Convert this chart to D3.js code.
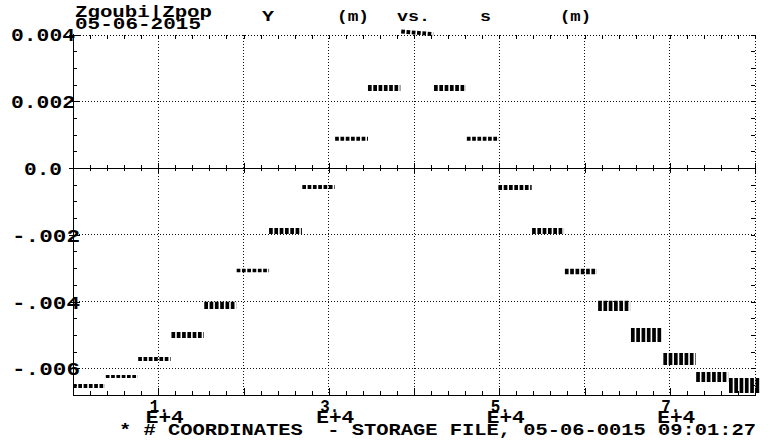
<!DOCTYPE html>
<html>
<head>
<meta charset="utf-8">
<script src="https://cdn.jsdelivr.net/npm/d3@7"></script>
<style>
  html, body { margin: 0; padding: 0; background: #fff; }
  svg { display: block; }
  text { font-family: "Liberation Mono", "DejaVu Sans Mono", monospace; font-weight: bold; fill: #000; white-space: pre; }
</style>
</head>
<body>
<svg id="chart" width="772" height="446"></svg>
<script>
// Horizontal orbit Y (m) along s (m): one group of stored passes per element section.
const sStart = [0, 3850, 7650, 11550, 15400, 19200, 23000, 26900, 30750, 34600, 38500,
                42350, 46200, 49900, 53850, 57700, 61600, 65450, 69250, 73100, 76950];
const sEnd   = [3750, 7600, 11450, 15350, 19150, 23000, 26850, 30700, 34600, 38400, 42250,
                46100, 49950, 53800, 57600, 61450, 65350, 69150, 73050, 76850, 80600];
// Upper and lower edge of each group at its start (m)
const yHi = [-0.00647, -0.00620, -0.00566, -0.00491, -0.00401, -0.00302, -0.00180, -0.00051,
             0.00094, 0.00249, 0.00415, 0.00249, 0.00094,
             -0.00051, -0.00180, -0.00302, -0.00398, -0.00479, -0.00554, -0.00611, -0.00629];
const yLo = [-0.00659, -0.00629, -0.00578, -0.00509, -0.00422, -0.00312, -0.00198, -0.00063,
             0.00082, 0.00231, 0.00403, 0.00231, 0.00082,
             -0.00066, -0.00198, -0.00318, -0.00428, -0.00521, -0.00590, -0.00641, -0.00674];
// Drift of the group centre between its start and its end (m)
const yDrift = [0, 0, 0, 0, 0, 0, 0, 0, 0, 0, -0.00008, 0, 0, 0, 0, 0, 0, 0, 0, 0, 0];

const yTicks = [0.004, 0.002, 0, -0.002, -0.004, -0.006];
const yTickLabels = ["0.004", "0.002", "0.0", "-.002", "-.004", "-.006"];
const xGridValues = [10000, 20000, 30000, 40000, 50000, 60000, 70000];
const xLabelValues = [10000, 30000, 50000, 70000];
const xLabelMantissa = ["1.", "3.", "5.", "7."];
const xLabelExponent = "E+4";

const svg = d3.select("#chart");
const L = 73, R = 755, T = 34.5, B = 395;

const x = d3.scaleLinear().domain([0, 80000]).range([L, R]);
const y = d3.scaleLinear().domain([-0.0068, 0.004]).range([B, T]);

const xMinor = d3.range(0, 80001, 2000);
const yMinor = d3.range(-0.0065, 0.00401, 0.0005).map(v => +v.toFixed(4));

const dotted = "1,2";

// grid: dotted lines at the major values
const grid = svg.append("g").attr("shape-rendering", "crispEdges")
  .attr("stroke", "#111").attr("stroke-width", 1).attr("stroke-dasharray", dotted);
grid.selectAll("line.v").data(xGridValues).join("line").attr("class", "v")
  .attr("x1", d => x(d)).attr("x2", d => x(d)).attr("y1", T).attr("y2", B);
grid.selectAll("line.h").data(yTicks.filter(v => v !== 0 && v !== 0.004)).join("line").attr("class", "h")
  .attr("x1", L).attr("x2", R).attr("y1", d => y(d)).attr("y2", d => y(d));

function styleAxis(g, dash) {
  g.attr("shape-rendering", "crispEdges");
  g.select(".domain").attr("stroke", "#000").attr("stroke-dasharray", dash || null);
  g.selectAll(".tick line").attr("stroke", "#000");
  g.selectAll(".tick text").remove();
}

// top frame (dotted) with minor ticks pointing down
svg.append("g").attr("transform", `translate(0,${T})`)
  .call(d3.axisBottom(x).tickValues(xMinor).tickSizeInner(4).tickSizeOuter(0))
  .call(g => styleAxis(g, dotted));

// right frame (dotted) with minor ticks pointing left
svg.append("g").attr("transform", `translate(${R},0)`)
  .call(d3.axisLeft(y).tickValues(yMinor).tickSizeInner(4).tickSizeOuter(0))
  .call(g => styleAxis(g, dotted));

// zero line with crossing ticks
svg.append("g").attr("transform", `translate(0,${y(0)})`)
  .call(d3.axisBottom(x).tickValues(xMinor).tickSizeInner(3).tickSizeOuter(0))
  .call(g => {
    styleAxis(g);
    g.selectAll(".tick line")
      .attr("y1", d => (d % 10000 === 0 ? -5 : -3))
      .attr("y2", d => (d % 10000 === 0 ? 5 : 3));
  });

// bottom axis: minor and major ticks pointing up
svg.append("g").attr("transform", `translate(0,${B})`)
  .call(d3.axisTop(x).tickValues(xMinor).tickSizeInner(4).tickSizeOuter(0))
  .call(g => {
    styleAxis(g);
    g.selectAll(".tick line").attr("y2", d => (d % 10000 === 0 ? -7 : -4));
  });

// bottom labels: mantissa over exponent
svg.append("g").attr("transform", `translate(0,${B})`)
  .call(d3.axisBottom(x).tickValues(xLabelValues).tickSize(0).tickFormat((d, i) => xLabelMantissa[i]))
  .call(g => {
    g.select(".domain").remove();
    g.selectAll(".tick").each(function(d, i) {
      const t = d3.select(this);
      t.select("text").remove();
      t.append("text").attr("x", -9).attr("y", 17).attr("text-anchor", "start")
        .attr("font-size", 18).attr("textLength", 19).attr("lengthAdjust", "spacingAndGlyphs")
        .text(xLabelMantissa[i]);
      t.append("text").attr("x", -13).attr("y", 28).attr("text-anchor", "start")
        .attr("font-size", 18).attr("textLength", 38).attr("lengthAdjust", "spacingAndGlyphs")
        .text(xLabelExponent);
    });
  });

// left axis: minor ticks inside
svg.append("g").attr("transform", `translate(${L},0)`)
  .call(d3.axisRight(y).tickValues(yMinor).tickSizeInner(4).tickSizeOuter(0))
  .call(g => styleAxis(g));

// left axis: major ticks crossing the line, with labels
svg.append("g").attr("transform", `translate(${L},0)`)
  .call(d3.axisLeft(y).tickValues(yTicks).tickSizeInner(4).tickSizeOuter(0)
        .tickFormat((d, i) => yTickLabels[i]))
  .call(g => {
    g.attr("shape-rendering", "crispEdges");
    g.select(".domain").attr("stroke", "#000").attr("d", `M0,${T - 1}V${B}`);
    g.selectAll(".tick line").attr("stroke", "#000").attr("x1", -4).attr("x2", 7);
    g.selectAll(".tick text")
      .attr("shape-rendering", null)
      .attr("text-anchor", "middle")
      .attr("x", (d, i) => (yTickLabels[i].startsWith("-") ? -27 : -30))
      .attr("dy", "0.36em")
      .attr("font-size", 18)
      .attr("textLength", (d, i) => (yTickLabels[i].length === 3 ? 38 : (yTickLabels[i].startsWith("-") ? 68 : 64)))
      .attr("lengthAdjust", "spacingAndGlyphs");
  });

// stored passes: one dashed band per group
svg.append("g").selectAll("line.grp").data(sStart).join("line").attr("class", "grp")
  .attr("x1", (d, i) => x(sStart[i]))
  .attr("x2", (d, i) => x(sEnd[i]))
  .attr("y1", (d, i) => y((yHi[i] + yLo[i]) / 2))
  .attr("y2", (d, i) => y((yHi[i] + yLo[i]) / 2 + yDrift[i]))
  .attr("stroke", "#000")
  .attr("stroke-width", (d, i) => Math.max(2.2, y(yLo[i]) - y(yHi[i])))
  .attr("stroke-dasharray", "3.7,1.6");

// headings
const head = svg.append("g");
head.append("text").attr("x", 75).attr("y", 17).attr("font-size", 17)
  .attr("textLength", 137).attr("lengthAdjust", "spacingAndGlyphs").text("Zgoubi|Zpop");
head.append("text").attr("x", 75).attr("y", 29).attr("font-size", 17)
  .attr("textLength", 126).attr("lengthAdjust", "spacingAndGlyphs").text("05-06-2015");
const titleParts = [["Y", 262, 12], ["(m)", 337, 32], ["vs.", 397, 33], ["s", 480, 11], ["(m)", 560, 31]];
head.selectAll("text.t").data(titleParts).join("text").attr("class", "t")
  .attr("x", d => d[1]).attr("y", 21).attr("font-size", 15)
  .attr("textLength", d => d[2]).attr("lengthAdjust", "spacingAndGlyphs")
  .text(d => d[0]);

svg.append("text").attr("x", 119).attr("y", 435).attr("font-size", 17)
  .attr("textLength", 637).attr("lengthAdjust", "spacingAndGlyphs")
  .text("* # COORDINATES  - STORAGE FILE, 05-06-0015 09:01:27");
</script>
</body>
</html>
